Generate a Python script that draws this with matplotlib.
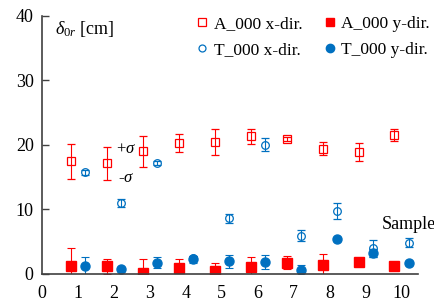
#!/usr/bin/env python3
"""Sample displacement (x/y dir) with +-sigma error bars for A_000 and T_000."""

import matplotlib

matplotlib.use("Agg")
import matplotlib.pyplot as plt
import numpy as np
from matplotlib.lines import Line2D

SAMPLES = [1, 2, 3, 4, 5, 6, 7, 8, 9, 10]

A_X_MEAN = [17.4, 17.1, 19.0, 20.2, 20.4, 21.3, 20.9, 19.4, 18.9, 21.5]
A_X_STD = [2.7, 2.5, 2.4, 1.4, 2.0, 1.2, 0.3, 1.0, 1.4, 0.9]
A_Y_MEAN = [1.2, 1.1, 0.1, 0.8, 0.4, 1.0, 1.7, 1.4, 1.8, 1.1]
A_Y_STD = [2.8, 1.2, 2.2, 1.5, 1.2, 1.5, 1.0, 1.7, 0.4, 0.3]

T_X_MEAN = [15.7, 10.9, 17.2, 2.4, 8.6, 20.0, 5.9, 9.7, 3.9, 4.8]
T_X_STD = [0.4, 0.6, 0.3, 0.4, 0.7, 1.0, 0.8, 1.2, 1.3, 0.7]
T_Y_MEAN = [1.1, 0.65, 1.7, 2.2, 1.9, 1.8, 0.6, 5.3, 3.2, 1.6]
T_Y_STD = [1.4, 0.3, 0.9, 0.5, 1.0, 1.1, 0.8, 0.3, 0.6, 0.3]

RED = "#FF0000"
BLUE = "#0070C0"

plt.rcParams["font.family"] = ["Liberation Serif", "DejaVu Serif"]
plt.rcParams["mathtext.fontset"] = "custom"
plt.rcParams["mathtext.it"] = "Liberation Serif:italic"
plt.rcParams["mathtext.rm"] = "Liberation Serif"


def main() -> None:
    fig = plt.figure(figsize=(4.35, 3.05), dpi=100)
    ax = fig.add_axes([0.0966, 0.103, 0.864, 0.845])

    x = np.array(SAMPLES, dtype=float)
    xa = x - 0.2
    xt = x + 0.2
    eb = dict(capsize=2.6, elinewidth=0.8, capthick=0.8, linestyle="none")

    ax.errorbar(xa, A_X_MEAN, yerr=A_X_STD, fmt="s", ms=6, mfc="none", mec=RED,
                mew=0.9, ecolor=RED, color=RED, **eb)
    ax.errorbar(xa, A_Y_MEAN, yerr=A_Y_STD, fmt="s", ms=6.5, mfc=RED, mec=RED,
                ecolor=RED, color=RED, **eb)
    ax.errorbar(xt, T_X_MEAN, yerr=T_X_STD, fmt="o", ms=5.5, mfc="none", mec=BLUE,
                mew=0.9, ecolor=BLUE, color=BLUE, **eb)
    ax.errorbar(xt, T_Y_MEAN, yerr=T_Y_STD, fmt="o", ms=6.5, mfc=BLUE, mec=BLUE,
                ecolor=BLUE, color=BLUE, **eb)

    ax.set_xlim(0, 10.45)
    ax.set_ylim(0, 40)
    ax.set_xticks(range(0, 11))
    ax.set_yticks([0, 10, 20, 30, 40])
    ax.set_xticks(SAMPLES, minor=True)
    ax.grid(True, which="minor", axis="x", color="#D0D0D0", linestyle=(0, (4, 3)),
            linewidth=0.9)
    ax.set_axisbelow(True)

    for side in ("top", "right"):
        ax.spines[side].set_visible(False)
    for side in ("left", "bottom"):
        ax.spines[side].set_color("#404040")
        ax.spines[side].set_linewidth(1.2)
    ax.tick_params(axis="y", direction="in", length=5, width=1.0, color="#404040",
                   labelsize=13, pad=6)
    ax.tick_params(axis="x", length=0, labelsize=13, pad=8)
    ax.tick_params(which="minor", length=0)

    ax.text(0.35, 39.5, r"$\delta_{0r}$ [cm]", fontsize=13, va="top", ha="left")
    ax.text(2.05, 19.4, r"+$\sigma$", fontsize=12, va="center")
    ax.text(2.1, 14.8, r"-$\sigma$", fontsize=12, va="center")
    ax.text(9.45, 7.6, "Sample", fontsize=13, va="center", ha="left", clip_on=False)

    # legend shows markers only, row-major: A x/y on top, T x/y below
    handles = [
        Line2D([], [], ls="none", marker="s", ms=5.5, mfc="none", mec=RED, mew=0.9),
        Line2D([], [], ls="none", marker="o", ms=5, mfc="none", mec=BLUE, mew=0.9),
        Line2D([], [], ls="none", marker="s", ms=6, mfc=RED, mec=RED),
        Line2D([], [], ls="none", marker="o", ms=6, mfc=BLUE, mec=BLUE),
    ]
    labels = ["A_000 x-dir.", "T_000 x-dir.", "A_000 y-dir.", "T_000 y-dir."]
    ax.legend(handles=handles, labels=labels, ncol=2,
              loc="upper right", bbox_to_anchor=(1.06, 1.04), frameon=False,
              fontsize=12.5, handlelength=0.6, handletextpad=0.35, columnspacing=1.3,
              labelspacing=0.55, borderaxespad=0.2)

    fig.savefig("out.png", dpi=100)
    plt.close(fig)


if __name__ == "__main__":
    main()
